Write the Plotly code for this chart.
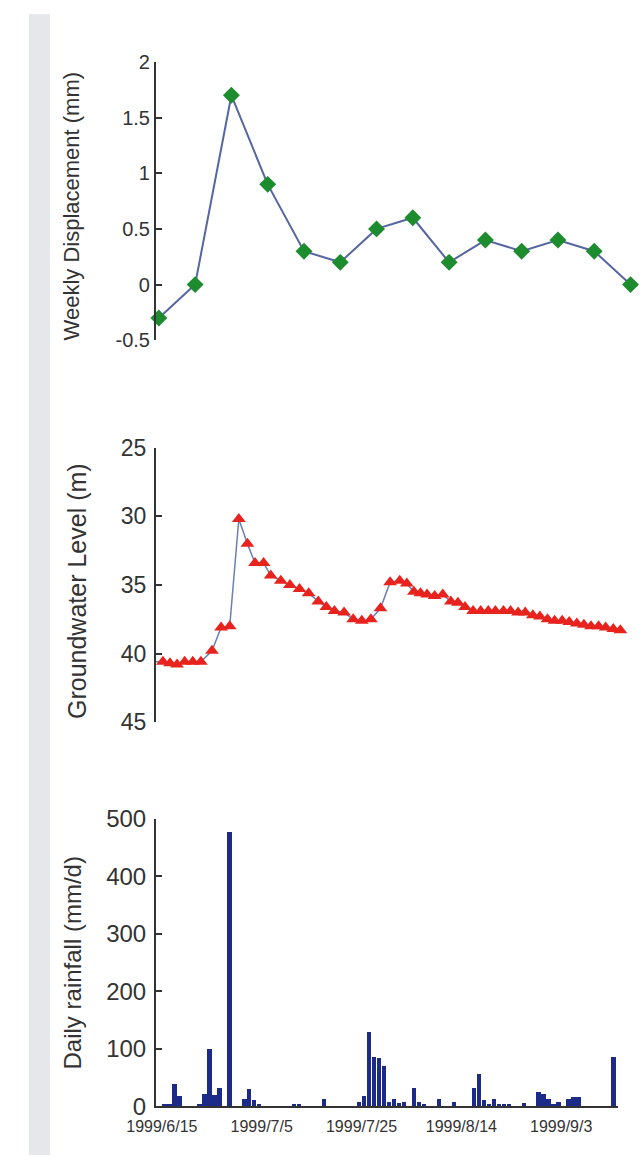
import plotly.graph_objects as go

# ---------------- data ----------------
weeks = [1, 2, 3, 4, 5, 6, 7, 8, 9, 10, 11, 12, 13, 14]
displacement = [-0.3, 0.0, 1.7, 0.9, 0.3, 0.2, 0.5, 0.6, 0.2, 0.4, 0.3, 0.4, 0.3, 0.0]

gw_day = [0.0, 1.5, 2.9, 4.3, 5.8, 7.4, 9.0, 11.2, 13.0, 14.7, 16.5, 18.2, 19.7, 21.4, 22.8,
          24.8, 26.6, 28.5, 30.3, 32.2, 33.8, 35.4, 37.3, 39.1, 40.8, 42.6, 44.5, 46.4,
          48.3, 49.7, 51.1, 52.4, 53.7, 55.2, 56.8, 58.4, 59.8, 61.2, 62.8, 64.3, 65.8, 67.2, 68.8,
          70.2, 71.7, 73.1, 74.6, 76.0, 77.5, 78.9, 80.4, 81.8, 83.3, 84.7, 86.1, 87.6, 89.0, 90.5, 91.9]
gw_level = [40.6, 40.6, 40.7, 40.8, 40.6, 40.6, 40.6,
            39.8, 38.1, 38.0, 30.2, 32.0, 33.4, 33.4, 34.3,
            34.7, 35.0, 35.3, 35.6, 36.2, 36.6, 36.9, 37.0, 37.5, 37.6, 37.5, 36.7, 34.8,
            34.7, 34.9, 35.5, 35.6, 35.7, 35.8, 35.7, 36.2, 36.3, 36.6, 36.9, 36.9, 36.9, 36.9, 36.9,
            36.9, 37.0, 37.0, 37.2, 37.3, 37.5, 37.6, 37.6, 37.7, 37.8, 37.9, 38.0, 38.0, 38.1, 38.2, 38.3]

rain_date = ["1999-06-15", "1999-06-16", "1999-06-17", "1999-06-18", "1999-06-22", "1999-06-23",
             "1999-06-24", "1999-06-25", "1999-06-26", "1999-06-28", "1999-07-01", "1999-07-02",
             "1999-07-03", "1999-07-04", "1999-07-11", "1999-07-12", "1999-07-17", "1999-07-24",
             "1999-07-25", "1999-07-26", "1999-07-27", "1999-07-28", "1999-07-29", "1999-07-30",
             "1999-07-31", "1999-08-01", "1999-08-02", "1999-08-04", "1999-08-05", "1999-08-06",
             "1999-08-09", "1999-08-12", "1999-08-16", "1999-08-17", "1999-08-18", "1999-08-19",
             "1999-08-20", "1999-08-21", "1999-08-22", "1999-08-23", "1999-08-26", "1999-08-29",
             "1999-08-30", "1999-08-31", "1999-09-01", "1999-09-02", "1999-09-04", "1999-09-05",
             "1999-09-06", "1999-09-13"]
rain_mm = [3, 4, 38, 17, 3, 21,
           100, 20, 32, 477, 13, 30,
           10, 3, 4, 4, 13, 8,
           17, 130, 85, 84, 70, 8,
           13, 6, 8, 32, 8, 4,
           12, 7, 32, 56, 11, 4,
           13, 3, 3, 3, 5, 24,
           22, 12, 4, 7, 12, 16,
           16, 85]

disp_ticks = [-0.5, 0, 0.5, 1, 1.5, 2]
disp_ticktext = ["-0.5", "0", "0.5", "1", "1.5", "2"]
gw_ticks = [25, 30, 35, 40, 45]
rain_ticks = [0, 100, 200, 300, 400, 500]
date_ticks = ["1999-06-15", "1999-07-05", "1999-07-25", "1999-08-14", "1999-09-03"]
date_ticktext = ["1999/6/15", "1999/7/5", "1999/7/25", "1999/8/14", "1999/9/3"]

W, H = 641, 1168
FONT = "Liberation Sans, Arial, Helvetica, sans-serif"
AX = "#333333"


def fx(p):
    return p / W


def fy(p):
    return 1 - p / H


fig = go.Figure()

fig.add_trace(go.Scatter(
    x=weeks, y=displacement, mode="lines+markers",
    line=dict(color="#5566a0", width=2),
    marker=dict(symbol="diamond", size=13, color="#1d8c2e", line=dict(width=0)),
    cliponaxis=False, xaxis="x", yaxis="y", showlegend=False))

fig.add_trace(go.Scatter(
    x=gw_day, y=gw_level, mode="lines+markers",
    line=dict(color="#6a80b4", width=1.5),
    marker=dict(symbol="triangle-up", size=12, color="#e8231e", line=dict(width=0)),
    cliponaxis=False, xaxis="x2", yaxis="y2", showlegend=False))

fig.add_trace(go.Bar(
    x=rain_date, y=rain_mm, marker=dict(color="#1c2a88", line=dict(width=0)),
    xperiod=86400000, xperiodalignment="middle", width=0.9 * 86400000,
    xaxis="x3", yaxis="y3", showlegend=False))


def yax(size, standoff):
    return dict(showline=True, linecolor=AX, linewidth=2, ticks="inside", ticklen=6,
                tickwidth=2, tickcolor=AX, showgrid=False, zeroline=False,
                ticklabelstandoff=standoff,
                tickfont=dict(family=FONT, size=size, color=AX))


fig.update_layout(
    width=W, height=H, margin=dict(l=0, r=0, t=0, b=0),
    paper_bgcolor="white", plot_bgcolor="rgba(0,0,0,0)",
    font=dict(family=FONT, color=AX),
    xaxis=dict(domain=[fx(133), fx(638)], range=[0.921, 14.21], visible=False, anchor="y"),
    yaxis=dict(domain=[fy(334), fy(49)], range=[-0.5, 2], tickvals=disp_ticks,
               ticktext=disp_ticktext, anchor="x", **yax(20, 0)),
    xaxis2=dict(domain=[fx(133), fx(625)], range=[0.13, 92.96], visible=False, anchor="y2"),
    yaxis2=dict(domain=[fy(725), fy(444)], range=[45, 25], tickvals=gw_ticks,
                anchor="x2", **yax(23, 3)),
    xaxis3=dict(domain=[fx(133), fx(617)], type="date",
                range=["1999-06-13 19:40", "1999-09-14 09:36"],
                tickvals=date_ticks, ticktext=date_ticktext, ticks="",
                showline=True, linecolor=AX, linewidth=2, showgrid=False, zeroline=False,
                tickfont=dict(family=FONT, size=16, color=AX), ticklabelstandoff=5,
                anchor="y3"),
    yaxis3=dict(domain=[fy(1118), fy(824)], range=[0, 500], tickvals=rain_ticks,
                anchor="x3", **yax(24, 3)),
    bargap=0,
    shapes=[dict(type="rect", xref="paper", yref="paper", x0=0, x1=fx(22), y0=0, y1=1,
                 fillcolor="#e6e7eb", line=dict(width=0), layer="below")],
    annotations=[
        dict(text="Weekly Displacement (mm)", x=fx(44), y=fy(197), xref="paper", yref="paper",
             xanchor="center", yanchor="middle",
             textangle=-90, showarrow=False, font=dict(family=FONT, size=22, color=AX)),
        dict(text="Groundwater Level (m)", x=fx(51), y=fy(591), xref="paper", yref="paper",
             xanchor="center", yanchor="middle",
             textangle=-90, showarrow=False, font=dict(family=FONT, size=25, color=AX)),
        dict(text="Daily rainfall (mm/d)", x=fx(46), y=fy(971), xref="paper", yref="paper",
             xanchor="center", yanchor="middle",
             textangle=-90, showarrow=False, font=dict(family=FONT, size=24, color=AX)),
    ],
)

fig.write_html("out.html", config={"displayModeBar": False},
               post_script="document.body.style.margin='0px';document.body.style.overflow='hidden';")
